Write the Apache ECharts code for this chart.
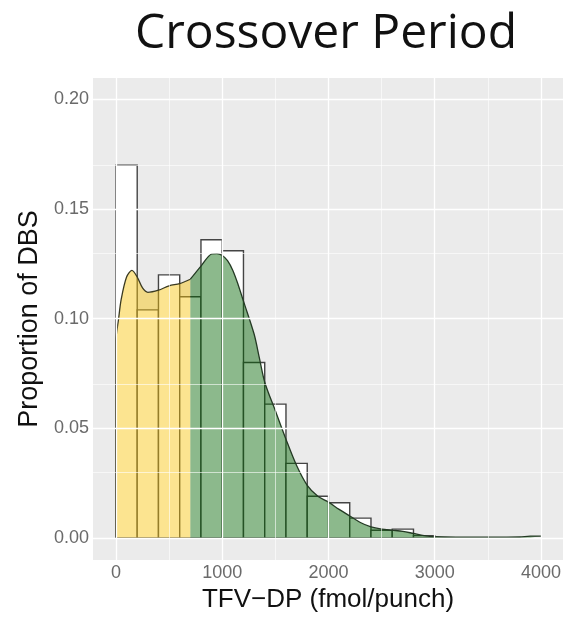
<!DOCTYPE html>
<html>
<head>
<meta charset="utf-8">
<script src="https://cdn.jsdelivr.net/npm/echarts@6/dist/echarts.min.js"></script>
<style>
  html, body { margin: 0; padding: 0; background: #fff; }
  #chart { width: 570px; height: 618px; }
</style>
</head>
<body>
<div id="chart"></div>
<script>
// histogram bins (width 200), proportion of DBS
const binWidth = 200;
const binStarts = [0, 200, 400, 600, 800, 1000, 1200, 1400, 1600, 1800, 2000, 2200, 2400, 2600, 2800];
const binHeights = [0.170, 0.104, 0.120, 0.110, 0.136, 0.131, 0.080, 0.061, 0.034, 0.019, 0.016, 0.009, 0.0035, 0.004, 0.001];

// density curve
const densityX = [0, 25, 50, 100, 150, 200, 250, 300, 400, 500, 600, 700, 800, 900, 950, 1000, 1050, 1100, 1150, 1200, 1300, 1350, 1400, 1500, 1600, 1700, 1800, 1900, 2000, 2100, 2200, 2300, 2400, 2500, 2600, 2700, 2800, 2900, 3000, 3200, 3500, 3800, 3900, 4000];
const densityY = [0.090, 0.100, 0.109, 0.119, 0.122, 0.119, 0.114, 0.112, 0.113, 0.115, 0.116, 0.118, 0.124, 0.1295, 0.1297, 0.1288, 0.1265, 0.122, 0.1155, 0.108, 0.093, 0.082, 0.071, 0.058, 0.045, 0.033, 0.024, 0.019, 0.0163, 0.013, 0.010, 0.007, 0.005, 0.004, 0.0035, 0.003, 0.002, 0.001, 0.0005, 0.0003, 0.0003, 0.0004, 0.0008, 0.0008];
const cutoff = 700;

const xTicks = [0, 1000, 2000, 3000, 4000];
const xMinor = [500, 1500, 2500, 3500];
const yTicks = [0, 0.05, 0.10, 0.15, 0.20];
const yMinor = [0.025, 0.075, 0.125, 0.175];

const chart = echarts.init(document.getElementById('chart'));

const pts = densityX.map((x, i) => [x, densityY[i]]);
const lowPart = [[0, 0]].concat(pts.filter(p => p[0] <= cutoff));
const highPart = pts.filter(p => p[0] >= cutoff);

const gridLines = [];
xTicks.forEach(v => gridLines.push({ xAxis: v, lineStyle: { width: 1.3 } }));
xMinor.forEach(v => gridLines.push({ xAxis: v, lineStyle: { width: 0.6 } }));
yTicks.forEach(v => gridLines.push({ yAxis: v, lineStyle: { width: 1.3 } }));
yMinor.forEach(v => gridLines.push({ yAxis: v, lineStyle: { width: 0.6 } }));

const tickLabel = { color: '#6a6a6a', fontSize: 18, fontFamily: 'Liberation Sans' };

option = {
  animation: false,
  graphic: [{
    type: 'text',
    x: 326, y: 34,
    style: {
      text: 'Crossover Period',
      fontSize: 48,
      fontFamily: 'Open Sans',
      fill: '#111',
      align: 'center',
      verticalAlign: 'middle'
    }
  }],
  grid: {
    left: 93, right: 7, top: 78, bottom: 51,
    show: true, backgroundColor: '#EBEBEB', borderWidth: 0
  },
  xAxis: {
    type: 'value',
    min: -216, max: 4207,
    name: 'TFV\u2212DP (fmol/punch)',
    nameLocation: 'middle',
    nameGap: 27,
    nameTextStyle: { fontSize: 26, color: '#111', fontFamily: 'Liberation Sans' },
    axisLine: { show: false },
    axisTick: { show: true, length: 4, customValues: xTicks, lineStyle: { color: '#555' } },
    axisLabel: Object.assign({ customValues: xTicks, margin: 4, formatter: v => String(v) }, tickLabel),
    splitLine: { show: false }
  },
  yAxis: {
    type: 'value',
    min: -0.0101, max: 0.2098,
    name: 'Proportion of DBS',
    nameLocation: 'middle',
    nameGap: 50,
    nameRotate: 90,
    nameTextStyle: { fontSize: 27, color: '#111', fontFamily: 'Liberation Sans' },
    axisLine: { show: false },
    axisTick: { show: true, length: 4, customValues: yTicks, lineStyle: { color: '#555' } },
    axisLabel: Object.assign({ customValues: yTicks, margin: 4, formatter: v => v.toFixed(2) }, tickLabel),
    splitLine: { show: false }
  },
  series: [
    {
      type: 'line',
      data: [],
      z: 0,
      silent: true,
      markLine: {
        silent: true,
        symbol: 'none',
        label: { show: false },
        lineStyle: { color: '#ffffff', type: 'solid' },
        data: gridLines
      }
    },
    {
      type: 'custom',
      z: 2,
      data: binStarts.map((s, i) => [s, binHeights[i]]),
      encode: { x: 0, y: 1 },
      renderItem: function (params, api) {
        const x0 = api.value(0);
        const h = api.value(1);
        const p0 = api.coord([x0, h]);
        const p1 = api.coord([x0 + binWidth, 0]);
        return {
          type: 'rect',
          shape: { x: p0[0], y: p0[1], width: p1[0] - p0[0], height: p1[1] - p0[1] },
          style: { fill: '#ffffff', stroke: '#444444', lineWidth: 1.4 }
        };
      }
    },
    {
      type: 'line',
      z: 3,
      data: lowPart,
      symbol: 'none',
      smooth: 0.3,
      lineStyle: { color: '#3a3a22', width: 1.3 },
      areaStyle: { color: 'rgba(248,196,8,0.45)', opacity: 1 }
    },
    {
      type: 'line',
      z: 3,
      data: highPart,
      symbol: 'none',
      smooth: 0.3,
      lineStyle: { color: '#243a24', width: 1.3 },
      areaStyle: { color: 'rgba(0,100,0,0.45)', opacity: 1 }
    }
  ]
};

chart.setOption(option);
</script>
</body>
</html>
